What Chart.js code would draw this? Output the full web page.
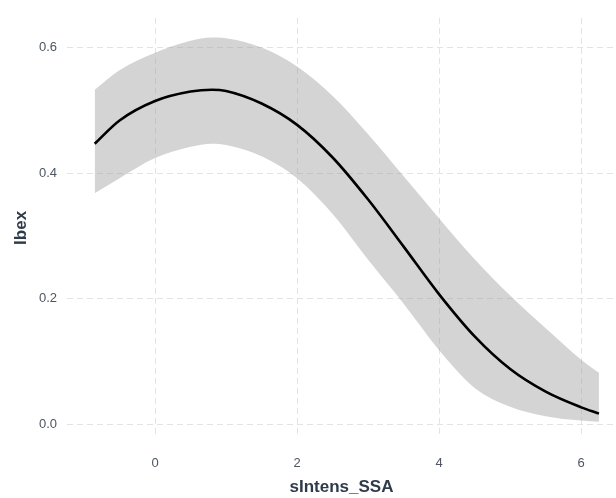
<!DOCTYPE html>
<html>
<head>
<meta charset="utf-8">
<script src="https://cdn.jsdelivr.net/npm/chart.js@4.4.1/dist/chart.umd.min.js"></script>
<style>
html,body{margin:0;padding:0;background:#fff;}
#wrap{width:616px;height:498px;}
</style>
</head>
<body>
<div id="wrap"><canvas id="c" width="616" height="498"></canvas></div>
<script>
const xValues = [-0.85, -0.5, 0, 0.5, 0.8, 1.0, 1.5, 2.0, 2.5, 3.0, 3.5, 4.0, 4.5, 5.0, 5.5, 6.0, 6.25];
const fitValues = [0.447, 0.484, 0.515, 0.530, 0.533, 0.531, 0.511, 0.477, 0.425, 0.358, 0.283, 0.207, 0.140, 0.088, 0.052, 0.027, 0.017];
const upperValues = [0.533, 0.564, 0.592, 0.611, 0.616, 0.615, 0.600, 0.570, 0.523, 0.462, 0.395, 0.328, 0.263, 0.205, 0.153, 0.103, 0.082];
const lowerValues = [0.368, 0.392, 0.424, 0.442, 0.447, 0.445, 0.427, 0.392, 0.335, 0.262, 0.192, 0.118, 0.058, 0.028, 0.013, 0.006, 0.004];
const xTicks = [0, 2, 4, 6];
const yTicks = [0.0, 0.2, 0.4, 0.6];
const xTitle = 'sIntens_SSA';
const yTitle = 'Ibex';

const pts = ys => xValues.map((x, i) => ({x: x, y: ys[i]}));

new Chart(document.getElementById('c'), {
  type: 'line',
  data: {
    datasets: [
      {data: pts(lowerValues), order: 2, borderWidth: 0, pointRadius: 0, fill: false, cubicInterpolationMode: 'monotone', borderColor: 'rgba(0,0,0,0)'},
      {data: pts(upperValues), order: 1, borderWidth: 0, pointRadius: 0, fill: '-1', backgroundColor: 'rgba(153,153,153,0.42)', cubicInterpolationMode: 'monotone', borderColor: 'rgba(0,0,0,0)'},
      {data: pts(fitValues), order: 0, borderWidth: 2.6, pointRadius: 0, fill: false, borderColor: '#000000', cubicInterpolationMode: 'monotone'}
    ]
  },
  options: {
    responsive: false,
    animation: false,
    devicePixelRatio: 1,
    layout: {padding: {left: 0, right: 0, top: 8, bottom: 0}},
    plugins: {legend: {display: false}, tooltip: {enabled: false}},
    scales: {
      x: {
        type: 'linear',
        min: -1.24, max: 6.49,
        afterBuildTicks: s => { s.ticks = xTicks.map(v => ({value: v})); },
        afterFit: s => { s.height = 60; },
        grid: {color: '#e3e3e3', lineWidth: 1, drawTicks: false},
        border: {display: false, dash: [6, 4]},
        ticks: {padding: 18, color: '#4d5560', font: {family: 'Liberation Sans', size: 13}, callback: v => String(v)},
        title: {display: true, text: xTitle, color: '#2f3b4a', font: {family: 'Liberation Sans', size: 17, weight: 'bold'}, padding: {top: 0, bottom: 0}}
      },
      y: {
        min: -0.0218, max: 0.6475,
        afterBuildTicks: s => { s.ticks = yTicks.map(v => ({value: v})); },
        afterFit: s => { s.width = 67; },
        grid: {color: '#e3e3e3', lineWidth: 1, drawTicks: false},
        border: {display: false, dash: [6, 4]},
        ticks: {padding: 10, color: '#4d5560', font: {family: 'Liberation Sans', size: 13}, callback: v => Number(v).toFixed(1)},
        title: {display: true, text: yTitle, color: '#2f3b4a', font: {family: 'Liberation Sans', size: 17, weight: 'bold'}, padding: {top: 11, bottom: 0}}
      }
    }
  }
});
</script>
</body>
</html>
